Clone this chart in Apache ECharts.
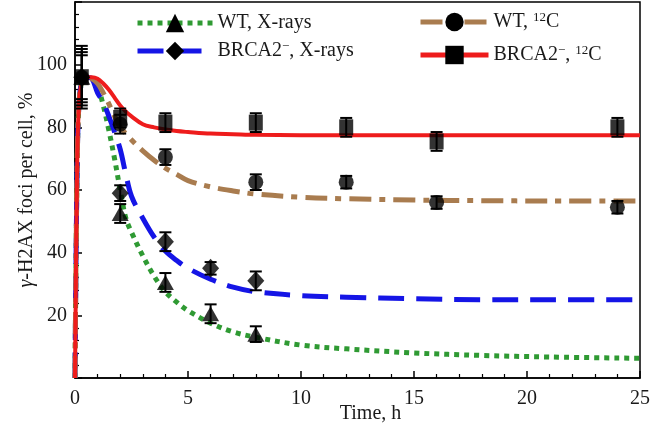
<!DOCTYPE html>
<html><head><meta charset="utf-8">
<script src="https://cdn.jsdelivr.net/npm/echarts@6/dist/echarts.min.js"></script>
<style>html,body{margin:0;padding:0;background:#fff}#c{width:654px;height:428px}</style>
</head><body><div id="c"></div>
<script>
// ---- data ----
const curveT   = [0, 0.1, 0.2, 0.35, 0.5, 0.75, 1, 1.25, 1.5, 1.75, 2, 2.25, 2.5, 3, 3.5, 4, 4.5, 5, 6, 7, 8, 10, 12, 15, 18, 21, 25];
const curveWTX = [0, 70, 90, 95.5, 96, 95.5, 93, 87, 79, 70, 60, 51, 46.5, 39, 32.5, 27.5, 24.2, 21.5, 17.5, 14.7, 13, 10.5, 9.3, 8, 7.2, 6.7, 6.3];
const curveBRX = [0, 70, 90, 95.5, 96, 95.5, 91, 88, 83.5, 78.5, 73, 65, 58, 51, 45, 40.5, 37.5, 35, 31.5, 29, 27.5, 26.3, 25.8, 25.3, 25, 25, 25];
const curveWTC = [0, 70, 90, 95.5, 96, 95.5, 94, 91, 87.5, 83.5, 80, 78, 76, 72.5, 69.5, 67, 65, 63, 61, 59.7, 58.7, 57.7, 57.2, 56.8, 56.6, 56.5, 56.5];
const curveBRC = [0, 70, 90, 95.5, 96, 96, 95.5, 94, 92, 89.5, 87, 85, 83.5, 81, 80, 79.3, 78.8, 78.5, 78, 77.8, 77.6, 77.5, 77.5, 77.5, 77.5, 77.5, 77.5];

const tX = [0.3, 2, 4, 6, 8];
const ptWTX = [96, 52.5, 30.5, 20.5, 14];
const erWTX = [7, 3, 3, 3, 2.5];
const ptBRX = [96, 59, 43.5, 35, 31];
const erBRX = [8, 2.5, 3, 2, 3];

const tC = [0.3, 2, 4, 8, 12, 16, 24];
const ptWTC = [96, 81, 70.5, 62.5, 62.5, 56, 54.5];
const erWTC = [9, 3, 2.5, 2.5, 2, 2, 2];
const ptBRC = [96, 83, 81.5, 81.5, 80, 75.5, 80];
const erBRC = [10, 3, 3, 3, 3, 3, 3];

const xTicks = [0, 5, 10, 15, 20, 25];
const yTicks = [20, 40, 60, 80, 100];

const names = ['WT, X-rays', 'BRCA2−, X-rays', 'WT, 12C', 'BRCA2−, 12C'];

// ---- chart ----
const FONT = '"Liberation Serif", "DejaVu Serif", serif';
const TXT = '#1a1a1a';
const zip = (a, b) => a.map((x, i) => [x, b[i]]);

function curve(name, ys, color, type, width, sym) {
  return {
    name, type: 'line', data: zip(curveT, ys), smooth: 0.35,
    symbol: sym, showSymbol: false, z: 2, silent: true,
    lineStyle: { color, type, width, cap: 'butt' }, itemStyle: { color }
  };
}
function pts(name, t, v, sym, size) {
  return { name, type: 'scatter', data: zip(t, v), symbol: sym, symbolSize: size,
    itemStyle: { color: '#000' }, z: 5, silent: true };
}
function err(name, t, v, e) {
  return {
    name, type: 'custom', silent: true, z: 4,
    data: t.map((x, i) => [x, v[i] - e[i], v[i] + e[i]]),
    encode: { x: 0, y: [1, 2] },
    renderItem: (params, api) => {
      const x = api.value(0);
      const lo = api.coord([x, api.value(1)]);
      const hi = api.coord([x, api.value(2)]);
      const w = 6, st = { stroke: '#000', lineWidth: 2 };
      return { type: 'group', children: [
        { type: 'line', shape: { x1: lo[0], y1: lo[1], x2: hi[0], y2: hi[1] }, style: st },
        { type: 'line', shape: { x1: lo[0] - w, y1: lo[1], x2: lo[0] + w, y2: lo[1] }, style: st },
        { type: 'line', shape: { x1: hi[0] - w, y1: hi[1], x2: hi[0] + w, y2: hi[1] }, style: st }
      ]};
    }
  };
}

function legendFmt(n) {
  if (n === names[0]) return '{a|WT, X-rays}';
  if (n === names[1]) return '{a|BRCA2}{s|−}{a|, X-rays}';
  if (n === names[2]) return '{a|WT, }{s|12}{a|C}';
  return '{a|BRCA2}{s|−}{a|, }{s|12}{a|C}';
}
const legendText = {
  fontFamily: FONT, color: TXT,
  rich: {
    a: { fontFamily: FONT, fontSize: 20, color: TXT, lineHeight: 22 },
    s: { fontFamily: FONT, fontSize: 13, color: TXT, verticalAlign: 'top', lineHeight: 22 }
  }
};
const legendBase = {
  orient: 'vertical', itemHeight: 23, formatter: legendFmt, textStyle: legendText,
  itemStyle: { color: '#000', borderWidth: 0 }, lineStyle: { width: 5 }, selectedMode: false
};

const chart = echarts.init(document.getElementById('c'), null, { renderer: 'canvas' });
chart.setOption({
  animation: false,
  backgroundColor: '#fff',
  grid: { left: 75, right: 14, top: 2, bottom: 50, containLabel: false, outerBoundsMode: 'none',
    show: true, borderColor: '#000', borderWidth: 1.5, backgroundColor: 'transparent' },
  legend: [
    Object.assign({}, legendBase, { data: [names[0], names[1]], left: 130, top: 8, itemWidth: 75, itemGap: 7 }),
    Object.assign({}, legendBase, { data: [names[2], names[3]], left: 413, top: 6, itemWidth: 68, itemGap: 12 })
  ],
  xAxis: {
    type: 'value', min: xTicks[0], max: xTicks[xTicks.length - 1], interval: 5,
    name: 'Time, h', nameLocation: 'middle', nameGap: 26, nameMoveOverlap: false,
    nameTextStyle: { fontFamily: FONT, fontSize: 20, color: TXT, padding: [0, 0, 0, 26] },
    axisLine: { lineStyle: { color: '#000', width: 1.5 } },
    axisTick: { inside: true, length: 7, lineStyle: { color: '#000', width: 1.5 } },
    minorTick: { show: true, splitNumber: 5, length: 4, lineStyle: { color: '#000', width: 1.2 } },
    axisLabel: { fontFamily: FONT, fontSize: 20, color: TXT, margin: 11 },
    splitLine: { show: false }
  },
  yAxis: {
    type: 'value', min: 0, max: 120, interval: 20,
    name: '{i|γ}-H2AX foci per cell, %', nameLocation: 'middle', nameGap: 38, nameMoveOverlap: false,
    nameTextStyle: { fontFamily: FONT, fontSize: 20, color: TXT,
      rich: { i: { fontFamily: FONT, fontStyle: 'italic', fontSize: 20, color: TXT } } },
    axisLine: { lineStyle: { color: '#000', width: 1.5 } },
    axisTick: { inside: true, length: 7, lineStyle: { color: '#000', width: 1.5 } },
    minorTick: { show: true, splitNumber: 5, length: 4, lineStyle: { color: '#000', width: 1.2 } },
    axisLabel: { fontFamily: FONT, fontSize: 20, color: TXT, margin: 8,
      formatter: v => (yTicks.indexOf(v) >= 0 ? String(v) : '') },
    splitLine: { show: false }
  },
  series: [
    curve(names[0], curveWTX, '#2f9a33', [5, 5], 5, 'triangle'),
    curve(names[1], curveBRX, '#1515e6', [26, 12], 5, 'diamond'),
    curve(names[2], curveWTC, '#a97c4f', [22, 8, 6, 8], 5, 'circle'),
    curve(names[3], curveBRC, '#ee1c1c', 'solid', 4, 'rect'),
    err('e1', tX, ptWTX, erWTX), err('e2', tX, ptBRX, erBRX),
    err('e3', tC, ptWTC, erWTC), err('e4', tC, ptBRC, erBRC),
    pts('p1', tX, ptWTX, 'triangle', [17, 15]),
    pts('p2', tX, ptBRX, 'diamond', [17, 19]),
    pts('p3', tC, ptWTC, 'circle', 15),
    pts('p4', tC, ptBRC, 'rect', [14, 16])
  ]
});
</script></body></html>
